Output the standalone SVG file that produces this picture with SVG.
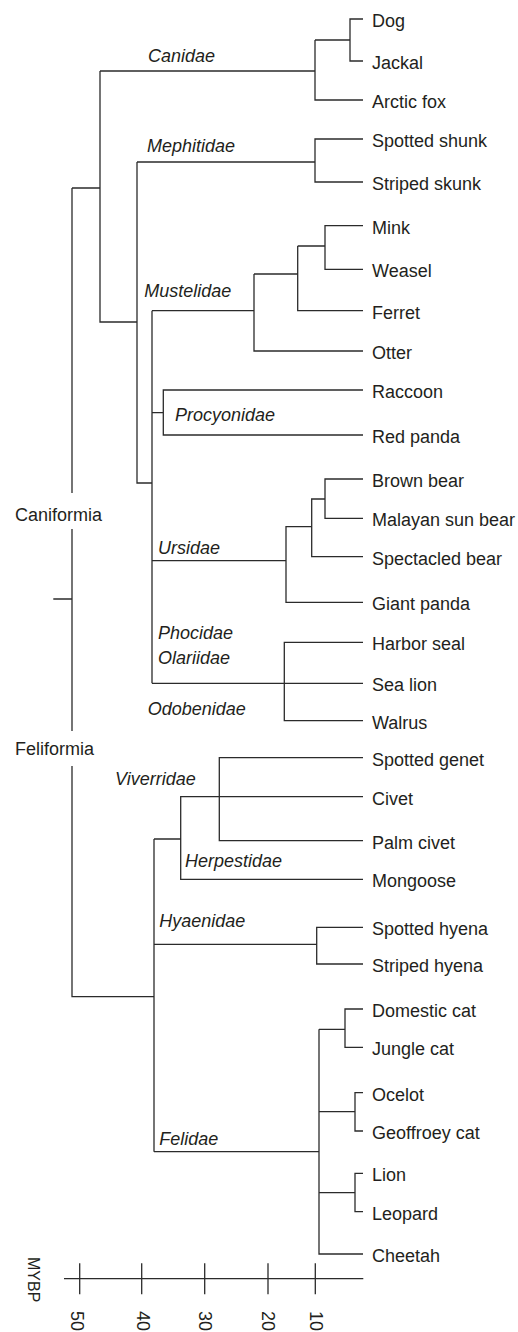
<svg xmlns="http://www.w3.org/2000/svg" width="518" height="1332" viewBox="0 0 518 1332">
<style>
.c{fill:none;stroke:#2b2b2b;stroke-width:1.3}
text{font-family:"Liberation Sans",Arial,sans-serif;font-size:18px;fill:#231f20}
.f{font-style:italic}
</style>
<rect width="518" height="1332" fill="#fff"/>
<g id="connectors" class="c">
<path d="M363,19 H350 V61 H363 M350,40 H315 M315,40 V100 H363 M100,71 H315 M100,71 V322 H137 M72,188 H100"/>
<path d="M363,139 H315 V182 H363 M137,162 H315 M137,162 V483 H152"/>
<path d="M363,225.7 H325 V269.3 H363 M325,246 H297.7 M297.7,246 V310.7 H363 M297.7,274 H254 M254,274 V351 H363 M152,310.7 H254"/>
<path d="M363,390 H163.3 V435 H363 M152,412.7 H163.3 M152,310.7 V683.3"/>
<path d="M363,479 H325 V518.3 H363 M325,499 H311.7 V556.7 H363 M311.7,526.7 H286 V602.3 H363 M152,560.7 H286"/>
<path d="M363,642.3 H284.3 V720.7 H363 M152,683.3 H363"/>
<path d="M72,188 V493 M72,529 V731 M72,766 V996.7 H154 M53.3,599 H72"/>
<path d="M363,757.7 H219.3 V840.7 H363 M363,796.7 H180.7 V879.3 H363 M180.7,839 H154 M154,839 V1151.7 M154,944.3 H316.7 M363,927.3 H316.7 V964 H363"/>
<path d="M363,1009 H345 V1047.3 H363 M345,1029.3 H319 M363,1092.7 H355 V1131 H363 M355,1111.7 H319 M363,1173.3 H355 V1211.7 H363 M355,1192.7 H319 M319,1029.3 V1254 H363 M154,1151.7 H319"/>
</g>
<g id="axis" class="c">
<path d="M64,1278.7 H363.3 M79.7,1263.3 V1294.3 M141.7,1263.3 V1294.3 M204.7,1263.3 V1294.3 M268,1263.3 V1294.3 M315.3,1263.3 V1294.3"/>
</g>
<g id="axis-labels">
<text transform="translate(28,1257) rotate(90)" style="font-size:16px">MYBP</text>
<text transform="translate(71,1311) rotate(90)">50</text>
<text transform="translate(137,1311) rotate(90)">40</text>
<text transform="translate(198.5,1311) rotate(90)">30</text>
<text transform="translate(262,1311) rotate(90)">20</text>
<text transform="translate(310,1311) rotate(90)">10</text>
</g>
<g id="groups">
<text x="15" y="521">Caniformia</text>
<text x="15" y="755">Feliformia</text>
</g>
<g id="families" class="f">
<text x="148" y="61.7">Canidae</text>
<text x="147" y="152">Mephitidae</text>
<text x="144.3" y="297.3">Mustelidae</text>
<text x="175" y="420.7">Procyonidae</text>
<text x="158" y="554">Ursidae</text>
<text x="158" y="639">Phocidae</text>
<text x="158" y="664.3">Olariidae</text>
<text x="147.7" y="715">Odobenidae</text>
<text x="115" y="785">Viverridae</text>
<text x="185" y="866.7">Herpestidae</text>
<text x="159.3" y="926.7">Hyaenidae</text>
<text x="159.3" y="1145">Felidae</text>
</g>
<g id="leaves">
<g id="dog"><text x="372" y="27">Dog</text></g>
<g id="jackal"><text x="372" y="69">Jackal</text></g>
<g id="arctic-fox"><text x="372" y="108">Arctic fox</text></g>
<g id="spotted-shunk"><text x="372" y="147">Spotted shunk</text></g>
<g id="striped-skunk"><text x="372" y="190">Striped skunk</text></g>
<g id="mink"><text x="372" y="233.7">Mink</text></g>
<g id="weasel"><text x="372" y="277.3">Weasel</text></g>
<g id="ferret"><text x="372" y="318.7">Ferret</text></g>
<g id="otter"><text x="372" y="359">Otter</text></g>
<g id="raccoon"><text x="372" y="398">Raccoon</text></g>
<g id="red-panda"><text x="372" y="443">Red panda</text></g>
<g id="brown-bear"><text x="372" y="487">Brown bear</text></g>
<g id="malayan-sun-bear"><text x="372" y="526.3">Malayan sun bear</text></g>
<g id="spectacled-bear"><text x="372" y="564.7">Spectacled bear</text></g>
<g id="giant-panda"><text x="372" y="610.3">Giant panda</text></g>
<g id="harbor-seal"><text x="372" y="650.3">Harbor seal</text></g>
<g id="sea-lion"><text x="372" y="691.3">Sea lion</text></g>
<g id="walrus"><text x="372" y="728.7">Walrus</text></g>
<g id="spotted-genet"><text x="372" y="765.7">Spotted genet</text></g>
<g id="civet"><text x="372" y="804.7">Civet</text></g>
<g id="palm-civet"><text x="372" y="848.7">Palm civet</text></g>
<g id="mongoose"><text x="372" y="887.3">Mongoose</text></g>
<g id="spotted-hyena"><text x="372" y="935.3">Spotted hyena</text></g>
<g id="striped-hyena"><text x="372" y="972">Striped hyena</text></g>
<g id="domestic-cat"><text x="372" y="1017">Domestic cat</text></g>
<g id="jungle-cat"><text x="372" y="1055.3">Jungle cat</text></g>
<g id="ocelot"><text x="372" y="1100.7">Ocelot</text></g>
<g id="geoffroey-cat"><text x="372" y="1139">Geoffroey cat</text></g>
<g id="lion"><text x="372" y="1181.3">Lion</text></g>
<g id="leopard"><text x="372" y="1219.7">Leopard</text></g>
<g id="cheetah"><text x="372" y="1262">Cheetah</text></g>
</g>
</svg>
